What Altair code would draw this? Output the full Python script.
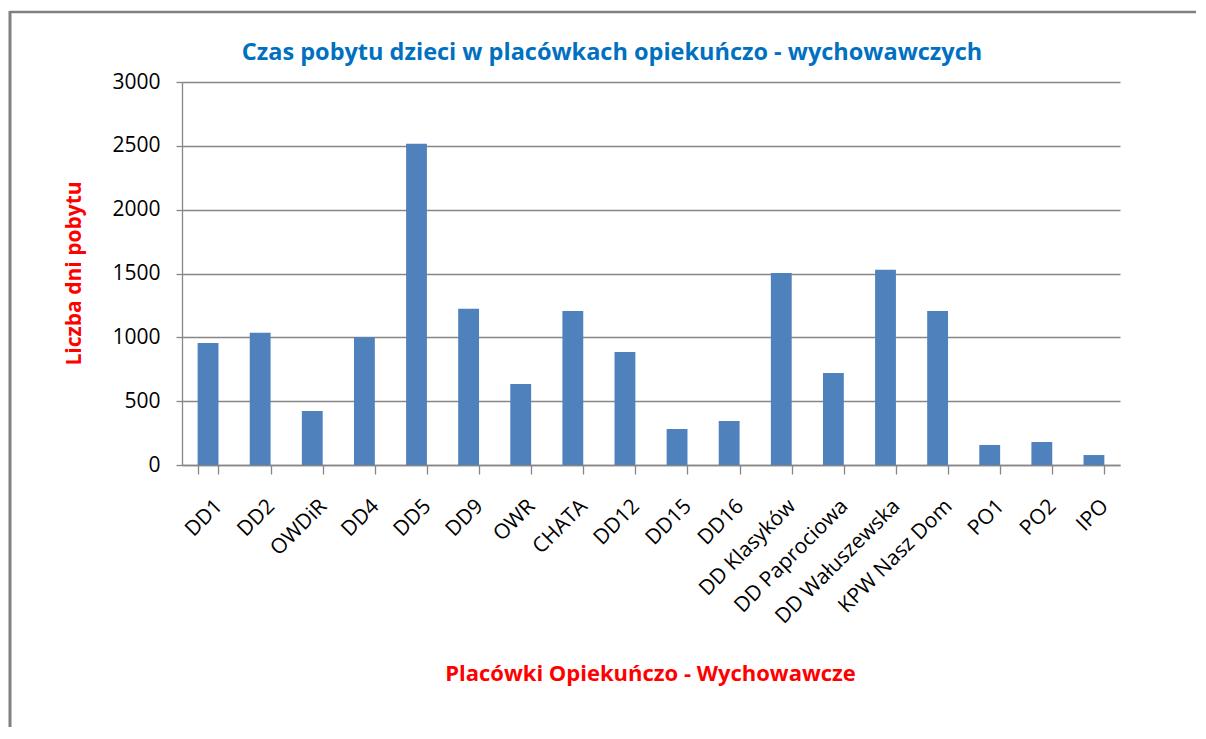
import altair as alt
import pandas as pd

categories = ["DD1", "DD2", "OWDiR", "DD4", "DD5", "DD9", "OWR", "CHATA", "DD12",
              "DD15", "DD16", "DD Klasyków", "DD Paprociowa", "DD Wałuszewska",
              "KPW Nasz Dom", "PO1", "PO2", "IPO"]
values = [955, 1035, 423, 1000, 2516, 1223, 635, 1207, 886,
          282, 345, 1503, 721, 1529, 1207, 157, 180, 78]
y_ticks = [0, 500, 1000, 1500, 2000, 2500, 3000]

df = pd.DataFrame({"cat": categories, "val": values})

FONT = "Open Sans"
GRAY = "#868686"

bars = alt.Chart(df).mark_bar(color="#4F81BD").encode(
    x=alt.X("cat:N", sort=categories,
            scale=alt.Scale(paddingInner=0.6, paddingOuter=0.3),
            axis=alt.Axis(title="Placówki Opiekuńczo - Wychowawcze",
                          titleColor="#FF0000", titleFont=FONT, titleFontSize=22,
                          titleFontWeight="bold",
                          titleX=468, titleY=208, titleAnchor="middle",
                          titleBaseline="middle",
                          labelAngle=-45, labelAlign="right", labelBaseline="top",
                          labelFont=FONT, labelFontSize=21, labelColor="#000000",
                          labelPadding=21, labelOffset=3,
                          tickBand="extent", tickSize=9, tickColor=GRAY,
                          domainColor=GRAY, domainWidth=1.3, tickWidth=1.3,
                          grid=False)),
    y=alt.Y("val:Q", scale=alt.Scale(domain=[0, 3000], nice=False),
            axis=alt.Axis(title="Liczba dni pobytu", values=y_ticks, format="d",
                          titleColor="#FF0000", titleFont=FONT, titleFontSize=21,
                          titleFontWeight="bold",
                          titleX=-108, titleY=191, titleAngle=-90,
                          titleAlign="center", titleBaseline="middle",
                          labelFont=FONT, labelFontSize=21, labelColor="#000000",
                          labelPadding=16,
                          tickSize=6, tickColor=GRAY, tickWidth=1.3,
                          domainColor=GRAY, domainWidth=1.3,
                          gridColor=GRAY, gridWidth=1.3)),
)

frame_df = pd.DataFrame({"k": ["a"]})
frame_top = alt.Chart(frame_df).mark_rule(color="#808080", strokeWidth=2.5).encode(
    x=alt.value(-172), x2=alt.value(1030), y=alt.value(-70))
frame_left = alt.Chart(frame_df).mark_rule(color="#808080", strokeWidth=3).encode(
    x=alt.value(-172), y=alt.value(-71), y2=alt.value(700))

chart = alt.layer(frame_top, frame_left, bars).properties(
    width=938, height=383,
    title=alt.TitleParams("Czas pobytu dzieci w placówkach opiekuńczo - wychowawczych",
                          color="#0070C0", font=FONT, fontSize=23.5, fontWeight="bold",
                          anchor="middle", offset=0, dx=-39, dy=55),
    autosize=alt.AutoSizeParams(type="none"),
    padding={"left": 174, "top": 74, "right": 76, "bottom": 262},
).configure_view(stroke=None)

chart.save("out.html", embed_options={"renderer": "svg", "actions": False})
